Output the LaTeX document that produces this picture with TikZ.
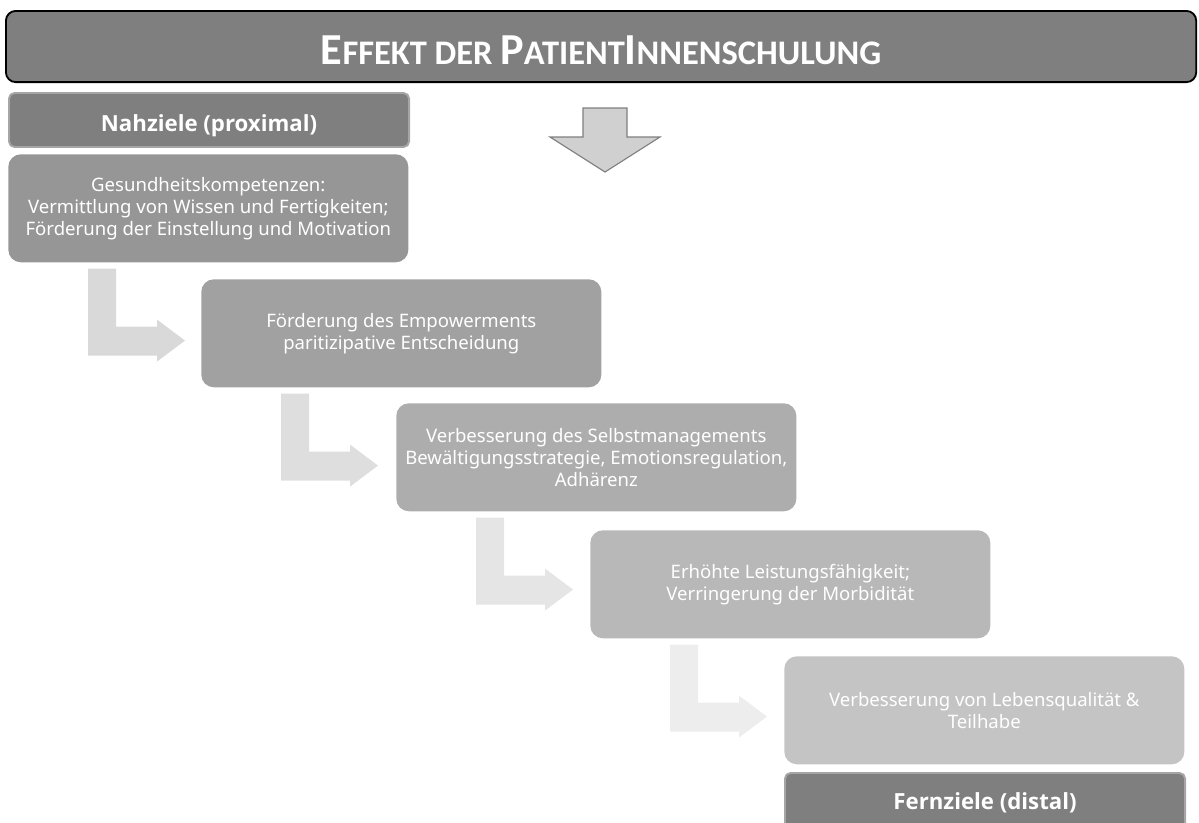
\documentclass[tikz,border=0pt]{standalone}
\usepackage{fontspec}
\setmainfont{Noto Sans}
\newfontfamily\titlefont{Carlito}
\newfontfamily\headfont{Open Sans}
\usetikzlibrary{positioning}

\definecolor{headgray}{HTML}{7F7F7F}
\definecolor{headline}{HTML}{A6A6A6}
\definecolor{arrowgray}{HTML}{D0D0D0}

\newcommand{\bigsc}[1]{{\fontsize{31.5}{34}\selectfont #1}}
\newcommand{\smallsc}[1]{{\fontsize{24.5}{28}\selectfont #1}}

\begin{document}
\begin{tikzpicture}[x=0.025cm, y=-0.025cm,
  headbox/.style={draw=headline, line width=1.4pt, fill=headgray, rounded corners=4pt,
    text=white, font=\headfont\bfseries\fontsize{15.8}{18}\selectfont,
    minimum width=10cm, anchor=north west, inner sep=0pt},
  goalbox/.style={fill=#1, rounded corners=9pt, text=white, align=center,
    font=\fontsize{13.2}{15.6}\selectfont, minimum width=10cm, minimum height=2.7cm,
    anchor=north west, inner sep=0pt}]
  \useasboundingbox (0,0) rectangle (1199,823);
  \clip (0,0) rectangle (1199,823);

  % Title
  \node[draw=black, line width=1.3pt, fill=headgray, rounded corners=7pt,
    minimum width=29.75cm, minimum height=1.78cm, anchor=north west,
    text=white, font=\titlefont\bfseries, text height=0.9cm, text depth=0pt] (title) at (5,10)
    {\bigsc{E}\smallsc{FFEKT DER }\bigsc{P}\smallsc{ATIENT}\bigsc{I}\smallsc{NNENSCHULUNG}};

  % Proximal goals
  \node[headbox, minimum height=1.35cm, text height=0.6cm, text depth=0pt] (near) at (8,92)
    {Nahziele (proximal)};

  % Down arrow
  \draw[draw=headgray, fill=arrowgray, line width=0.8pt]
    (583,108) -- (627,108) -- (627,137) -- (660,137) -- (605,172)
    -- (550,137) -- (583,137) -- cycle;

  % Steps
  \node[goalbox=black!41] (b1) at (8,154)
    {Gesundheitskompetenzen:\\Vermittlung von Wissen und Fertigkeiten;\\F\"orderung der Einstellung und Motivation};
  \node[goalbox=black!37] (b2) at (201,279)
    {F\"orderung des Empowerments\\paritizipative Entscheidung};
  \node[goalbox=black!32] (b3) at (396,403)
    {Verbesserung des Selbstmanagements\\Bew\"altigungsstrategie, Emotionsregulation,\\Adh\"arenz};
  \node[goalbox=black!28] (b4) at (590,530)
    {Erh\"ohte Leistungsf\"ahigkeit;\\Verringerung der Morbidit\"at};
  \node[goalbox=black!23] (b5) at (784,656)
    {Verbesserung von Lebensqualit\"at \&\\Teilhabe};

  % Distal goals
  \node[headbox, minimum height=1.5cm] (far) at (784,772) {Fernziele (distal)};

  % Bent arrows between steps
  \foreach \from/\shade in {b1/15, b2/13, b3/10, b4/7} {
    \begin{scope}[shift={(\from.south west)}]
      \fill[black!\shade] (80,6) -- (108,6) -- (108,64) -- (149,64) -- (149,57)
        -- (177,78) -- (149,99) -- (149,93) -- (80,93) -- cycle;
    \end{scope}
  }
\end{tikzpicture}
\end{document}
